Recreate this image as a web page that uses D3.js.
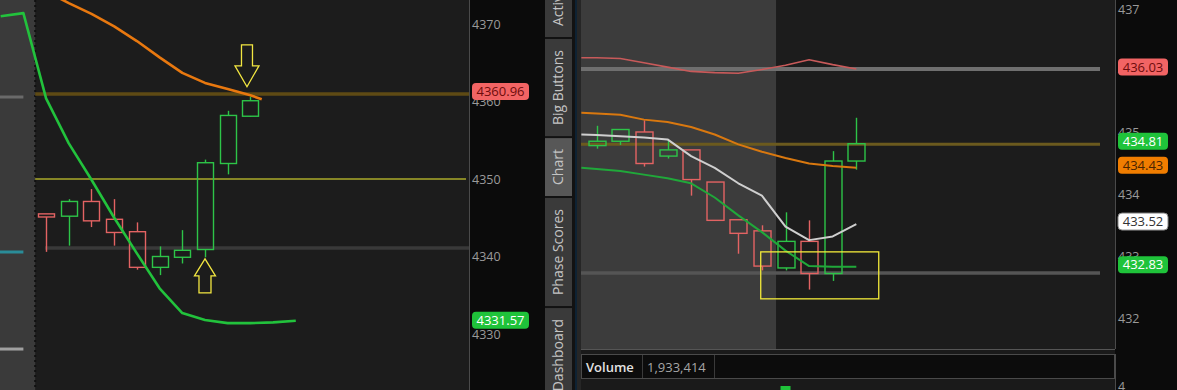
<!DOCTYPE html>
<html>
<head>
<meta charset="utf-8">
<script src="https://cdn.jsdelivr.net/npm/d3@7"></script>
<style>
body { margin: 0; background: #0b0b0b; }
svg { display: block; font-family: "Open Sans", sans-serif; }
</style>
</head>
<body>
<svg id="chart" width="1177" height="390"></svg>
<script>
// ---- left chart (index futures, 4330-4370) ----
const leftOpen  = [4345.5, 4345.2, 4347.1, 4344.8, 4343.2, 4338.6, 4339.9, 4340.9, 4352.0, 4358.1];
const leftClose = [4345.1, 4347.1, 4344.6, 4343.1, 4338.6, 4340.0, 4340.8, 4352.1, 4358.2, 4360.1];
const leftHigh  = [4345.5, 4347.4, 4348.7, 4347.4, 4344.4, 4341.3, 4343.4, 4352.5, 4358.8, 4360.6];
const leftLow   = [4340.6, 4341.4, 4343.8, 4341.4, 4338.3, 4337.6, 4339.1, 4339.9, 4350.6, 4358.0];

const leftOrangeX = [0, 1, 2, 3, 4, 5, 6, 7, 8, 9, 9.5];
const leftOrange  = [4374.2, 4372.7, 4371.3, 4369.7, 4367.8, 4365.7, 4363.7, 4362.4, 4361.6, 4360.8, 4360.3];
const leftGreenX  = [-2, -1, 0, 1, 2, 3, 4, 5, 6, 7, 8, 9, 10, 11];
const leftGreen   = [4371.0, 4371.4, 4360.4, 4354.6, 4349.9, 4345.0, 4340.4, 4335.9, 4332.7, 4331.8, 4331.4, 4331.4, 4331.5, 4331.7];

const leftTicks = [4330, 4340, 4350, 4360, 4370];
const leftGold = 4360.96;
const leftYellow = 4350;
const leftGray = 4341.1;

// ---- right chart (ETF, 432-437) ----
const rightOpen  = [434.79, 434.86, 435.01, 434.62, 434.72, 434.20, 433.59, 433.41, 432.81, 433.24, 432.72, 434.54];
const rightClose = [434.86, 435.05, 434.50, 434.72, 434.24, 433.58, 433.37, 432.84, 433.24, 432.72, 434.54, 434.82];
const rightHigh  = [435.11, 435.05, 435.20, 434.87, 434.72, 434.20, 433.59, 433.50, 433.71, 433.58, 434.70, 435.24];
const rightLow   = [434.74, 434.80, 434.45, 434.58, 433.98, 433.57, 433.04, 432.77, 432.77, 432.46, 432.60, 434.40];
const rightVolume = [0.9, 0.7, 1.2, 0.6, 1.4, 1.6, 1.3, 1.9, 4.0, 2.4, 3.4, 1.5]; // millions

const rightLineX  = [-0.65, 0, 1, 2, 3, 4, 5, 6, 7, 8, 9, 10, 11];
const rightOrange = [435.32, 435.31, 435.29, 435.21, 435.17, 435.09, 434.97, 434.81, 434.69, 434.59, 434.50, 434.46, 434.43];
const rightWhite  = [434.97, 434.96, 434.94, 434.92, 434.89, 434.62, 434.43, 434.18, 433.98, 433.48, 433.26, 433.32, 433.52];
const rightGreen  = [434.43, 434.41, 434.38, 434.32, 434.26, 434.18, 433.95, 433.66, 433.39, 433.09, 432.84, 432.83, 432.83];
const rightRed    = [436.21, 436.21, 436.20, 436.13, 436.06, 435.99, 435.97, 435.96, 436.02, 436.09, 436.18, 436.10, 436.03];

const rightTicks = [432, 433, 434, 435, 436, 437];
const rightGrayTop = 436.03;
const rightGold = 434.81;
const rightGrayLow = 432.73;

const tabNames = ["Active", "Big Buttons", "Chart", "Phase Scores", "Dashboard"];

const svg = d3.select("#chart");
const W = 1177, H = 390;

const xL = d3.scaleLinear().domain([-2.03, 18.63]).range([0, 469]);
const yL = d3.scaleLinear().domain([4330, 4370]).range([334, 24]);
const xR = d3.scaleLinear().domain([-0.665, 21.96]).range([581, 1115]);
const yR = d3.scaleLinear().domain([432, 437]).range([318, 9]);
const yV = d3.scaleLinear().domain([0, 4]).range([470, 386]);

const GREEN = "#2dc448", RED = "#e36363";

function drawCandles(g, x, y, o, h, l, c, w) {
  o.forEach(function(open, i) {
    var close = c[i];
    var col = close >= open ? GREEN : RED;
    var top = y(Math.max(open, close)), bot = y(Math.min(open, close));
    var cx = Math.round(x(i)) + 0.5;
    g.append("line").attr("x1", cx).attr("x2", cx).attr("y1", y(h[i])).attr("y2", top)
      .attr("stroke", col).attr("stroke-width", 1.4);
    g.append("line").attr("x1", cx).attr("x2", cx).attr("y1", bot).attr("y2", y(l[i]))
      .attr("stroke", col).attr("stroke-width", 1.4);
    g.append("rect").attr("x", cx - w / 2).attr("y", top)
      .attr("width", w).attr("height", Math.max(2, bot - top))
      .attr("fill", "none").attr("stroke", col).attr("stroke-width", 1.4);
  });
}

function drawLine(g, x, y, xs, vs, col, sw) {
  var line = d3.line().x(function(d) { return x(d[0]); }).y(function(d) { return y(d[1]); });
  g.append("path").datum(d3.zip(xs, vs)).attr("d", line)
    .attr("fill", "none").attr("stroke", col).attr("stroke-width", sw)
    .attr("stroke-linejoin", "round");
}

function badge(g, x0, yc, w, txt, fill, color, stroke) {
  g.append("rect").attr("x", x0).attr("y", yc - 8.5).attr("width", w).attr("height", 17)
    .attr("rx", 4).attr("fill", fill).attr("stroke", stroke || "none");
  g.append("text").attr("x", x0 + w / 2).attr("y", yc).attr("dy", "0.36em")
    .attr("text-anchor", "middle").attr("font-size", 13).attr("fill", color).text(txt);
}

// ================= LEFT CHART =================
var gl = svg.append("g");
gl.append("defs").append("clipPath").attr("id", "clipL")
  .append("rect").attr("x", 0).attr("y", 0).attr("width", 469).attr("height", H);
gl.append("rect").attr("width", 469).attr("height", H).attr("fill", "#1c1c1c");
gl.append("rect").attr("width", xL(-0.48)).attr("height", H).attr("fill", "#3a3a3a");

// levels inside the shaded (previous session) zone
[[4360.58, "#6a6a6a"], [4340.58, "#2a8c98"], [4328.06, "#a0a0a0"]].forEach(function(d) {
  gl.append("line").attr("x1", 0).attr("x2", xL(-1.0)).attr("y1", yL(d[0])).attr("y2", yL(d[0]))
    .attr("stroke", d[1]).attr("stroke-width", 3);
});
gl.append("line").attr("x1", xL(-0.48)).attr("x2", xL(-0.48)).attr("y1", 0).attr("y2", H)
  .attr("stroke", "#101010").attr("stroke-width", 2).attr("stroke-dasharray", "2,3");

var glp = gl.append("g").attr("clip-path", "url(#clipL)");
glp.append("line").attr("x1", xL(-0.48)).attr("x2", 469).attr("y1", yL(leftGold)).attr("y2", yL(leftGold))
  .attr("stroke", "#5e4a14").attr("stroke-width", 3.5);
glp.append("line").attr("x1", xL(-0.05)).attr("x2", 469).attr("y1", yL(leftGray)).attr("y2", yL(leftGray))
  .attr("stroke", "#393939").attr("stroke-width", 3.5);
glp.append("line").attr("x1", xL(-0.48)).attr("x2", 466).attr("y1", yL(leftYellow)).attr("y2", yL(leftYellow))
  .attr("stroke", "#f0f030").attr("stroke-width", 1);

drawCandles(glp, xL, yL, leftOpen, leftHigh, leftLow, leftClose, 16);
drawLine(glp, xL, yL, leftOrangeX, leftOrange, "#e8780f", 2.6);
drawLine(glp, xL, yL, leftGreenX, leftGreen, "#22c23c", 2.6);

// arrows
var arrows = [
  { i: 8.85, p: 4361.9, d: "M0,0 L-12,-21 L-5.5,-21 L-5.5,-42 L5.5,-42 L5.5,-21 L12,-21 Z" },
  { i: 7.0, p: 4339.7, d: "M0,0 L-10.5,17 L-6,17 L-6,34 L6,34 L6,17 L10.5,17 Z" }
];
arrows.forEach(function(a) {
  glp.append("path").attr("d", a.d)
    .attr("transform", "translate(" + xL(a.i) + "," + yL(a.p) + ")")
    .attr("fill", "none").attr("stroke", "#f2e641").attr("stroke-width", 1.3);
});

// left axis
var ga = svg.append("g").attr("transform", "translate(469,0)");
ga.append("rect").attr("width", 76).attr("height", H).attr("fill", "#0b0b0b");
ga.append("line").attr("x1", 0.5).attr("x2", 0.5).attr("y1", 0).attr("y2", H).attr("stroke", "#4a4a4a");
var axL = ga.append("g").call(d3.axisRight(yL).tickValues(leftTicks).tickSize(0).tickPadding(3).tickFormat(d3.format("d")));
axL.select(".domain").remove();
axL.selectAll("text").attr("fill", "#9a9a9a").attr("font-size", 12.5).attr("font-family", "Open Sans");
badge(ga, 3, yL(leftGold) - 2.5, 57, "4360.96", "#f26464", "#6e0c0c");
badge(ga, 3, yL(leftGreen[11]) - 3, 57, "4331.57", "#1fc33a", "#ffffff");

// ================= TABS =================
var gt = svg.append("g");
gt.append("rect").attr("x", 545).attr("width", 36).attr("height", H).attr("fill", "#121212");
var yEnd = 37;
tabNames.forEach(function(name, k) {
  var t = gt.append("text").attr("font-size", 14).attr("fill", "#c4c4c4")
    .attr("text-anchor", "middle").attr("dy", "0.35em").text(name);
  var len = t.node().getComputedTextLength();
  var y0 = k === 0 ? yEnd - len - 22 : yEnd + 2;
  var y1 = y0 + len + 22;
  gt.insert("rect", "text").attr("x", 545).attr("y", y0).attr("width", 27).attr("height", y1 - y0)
    .attr("fill", name === "Chart" ? "#575757" : "#3a3a3a");
  t.attr("transform", "translate(558.5," + ((y0 + y1) / 2) + ") rotate(-90)");
  yEnd = y1;
});
gt.append("line").attr("x1", 576).attr("x2", 576).attr("y1", 0).attr("y2", H).attr("stroke", "#0e2233").attr("stroke-width", 2);
gt.append("rect").attr("x", 577).attr("width", 4).attr("height", H).attr("fill", "#262626");

// ================= RIGHT CHART =================
var gr = svg.append("g");
gr.append("defs").append("clipPath").attr("id", "clipR")
  .append("rect").attr("x", 581).attr("y", 0).attr("width", 534).attr("height", 349);
gr.append("rect").attr("x", 581).attr("width", 534).attr("height", 349).attr("fill", "#1c1c1c");
gr.append("rect").attr("x", 581).attr("width", xR(7.6) - 581).attr("height", 349).attr("fill", "#3c3c3c");

var grp = gr.append("g").attr("clip-path", "url(#clipR)");
grp.append("line").attr("x1", 581).attr("x2", 1100).attr("y1", yR(rightGrayTop)).attr("y2", yR(rightGrayTop))
  .attr("stroke", "#6f6f6f").attr("stroke-width", 4);
grp.append("line").attr("x1", 581).attr("x2", 1100).attr("y1", yR(rightGold)).attr("y2", yR(rightGold))
  .attr("stroke", "#6b5a1e").attr("stroke-width", 3);
grp.append("line").attr("x1", 581).attr("x2", 1100).attr("y1", yR(rightGrayLow)).attr("y2", yR(rightGrayLow))
  .attr("stroke", "#555555").attr("stroke-width", 3.5);

drawCandles(grp, xR, yR, rightOpen, rightHigh, rightLow, rightClose, 17);
drawLine(grp, xR, yR, rightLineX, rightRed, "#c85a5a", 1.6);
drawLine(grp, xR, yR, rightLineX, rightOrange, "#d9780f", 2);
drawLine(grp, xR, yR, rightLineX, rightGreen, "#20a83a", 2);
drawLine(grp, xR, yR, rightLineX, rightWhite, "#cfcfcf", 2);

// highlight box
var box = { i0: 6.95, i1: 11.95, p0: 432.31, p1: 433.07 };
grp.append("rect").attr("x", xR(box.i0)).attr("y", yR(box.p1))
  .attr("width", xR(box.i1) - xR(box.i0)).attr("height", yR(box.p0) - yR(box.p1))
  .attr("fill", "none").attr("stroke", "#f2ea3a").attr("stroke-width", 1.3);

gr.append("line").attr("x1", 581).attr("x2", 1115).attr("y1", 349.5).attr("y2", 349.5).attr("stroke", "#555");

// volume header and pane
gr.append("rect").attr("x", 581).attr("y", 350).attr("width", 534).attr("height", H - 350).attr("fill", "#1a1a1a");
gr.append("rect").attr("x", 581.5).attr("y", 354.5).attr("width", 533).attr("height", 24)
  .attr("fill", "#0c0c0c").attr("stroke", "#4a4a4a");
gr.append("line").attr("x1", 642.5).attr("x2", 642.5).attr("y1", 355).attr("y2", 378).attr("stroke", "#3a3a3a");
gr.append("line").attr("x1", 714.5).attr("x2", 714.5).attr("y1", 355).attr("y2", 378).attr("stroke", "#3a3a3a");
gr.append("text").attr("x", 586).attr("y", 367).attr("dy", "0.36em").attr("font-size", 13)
  .attr("font-weight", 600).attr("fill", "#e2e2e2").text("Volume");
gr.append("text").attr("x", 647).attr("y", 367).attr("dy", "0.36em").attr("font-size", 13)
  .attr("fill", "#a6a6a6").text(d3.format(",")(1933414));
gr.selectAll(".vol").data(rightVolume).enter().append("rect")
  .attr("x", function(d, i) { return xR(i) - 5; })
  .attr("y", function(d) { return yV(d); })
  .attr("width", 10)
  .attr("height", function(d) { return Math.max(0, H - yV(d)); })
  .attr("fill", function(d, i) { return rightClose[i] >= rightOpen[i] ? "#1fc33a" : "#e36363"; });

// right axis
var gb = svg.append("g").attr("transform", "translate(1115,0)");
gb.append("rect").attr("width", 62).attr("height", H).attr("fill", "#0b0b0b");
gb.append("line").attr("x1", 0.5).attr("x2", 0.5).attr("y1", 0).attr("y2", 349).attr("stroke", "#4a4a4a");
gb.append("line").attr("x1", 0.5).attr("x2", 0.5).attr("y1", 354).attr("y2", H).attr("stroke", "#4a4a4a");
var axR = gb.append("g").call(d3.axisRight(yR).tickValues(rightTicks).tickSize(0).tickPadding(3).tickFormat(d3.format("d")));
axR.select(".domain").remove();
axR.selectAll("text").attr("fill", "#9a9a9a").attr("font-size", 12.5).attr("font-family", "Open Sans");
var axV = gb.append("g").call(d3.axisRight(yV).tickValues([4]).tickSize(0).tickPadding(3).tickFormat(d3.format("d")));
axV.select(".domain").remove();
axV.selectAll("text").attr("fill", "#9a9a9a").attr("font-size", 12.5).attr("font-family", "Open Sans");

badge(gb, 3, yR(rightGrayTop) - 2, 50, "436.03", "#f26464", "#6e0c0c");
badge(gb, 3, yR(rightClose[11]) - 2.5, 50, "434.81", "#1fc33a", "#ffffff");
badge(gb, 3, yR(rightOrange[12]) - 2.5, 50, "434.43", "#f07d00", "#4a2400");
badge(gb, 3, yR(rightWhite[12]) - 2.5, 50, "433.52", "#ffffff", "#333333", "#888");
badge(gb, 3, yR(rightGreen[12]) - 2, 50, "432.83", "#1fc33a", "#ffffff");
</script>
</body>
</html>
